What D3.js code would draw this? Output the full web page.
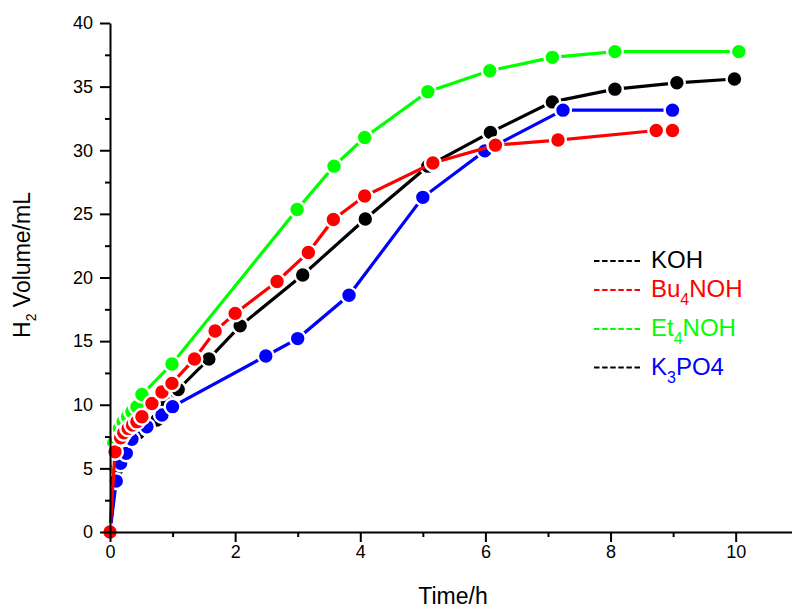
<!DOCTYPE html>
<html><head><meta charset="utf-8">
<script src="https://cdn.jsdelivr.net/npm/d3@7"></script>
<style>
body{margin:0;background:#fff;}
text{font-family:"Liberation Sans",Arial,sans-serif;}
</style></head>
<body><svg id="c" width="792" height="608"></svg>
<script>
// ---- data ----
const seriesNames = ["KOH", "Et4NOH", "K3PO4", "Bu4NOH"];
const time_KOH = [0, 0.10, 0.19, 0.35, 0.45, 0.59, 0.75, 0.90, 1.09, 1.58, 2.08, 3.08, 4.08, 5.08, 6.08, 7.07, 8.07, 9.06, 9.98];
const vol_KOH  = [0, 4.87, 6.44, 7.36, 7.75, 8.2, 8.8, 10.1, 11.2, 13.6, 16.2, 20.2, 24.6, 28.75, 31.4, 33.8, 34.8, 35.3, 35.6];
const time_Bu  = [0, 0.08, 0.17, 0.22, 0.29, 0.36, 0.43, 0.51, 0.67, 0.83, 0.99, 1.35, 1.68, 2.0, 2.67, 3.17, 3.57, 4.07, 5.16, 6.16, 7.16, 8.73, 8.99];
const vol_Bu   = [0, 6.3, 7.4, 7.8, 8.14, 8.4, 8.67, 9.06, 10.1, 11.0, 11.68, 13.6, 15.79, 17.18, 19.69, 21.97, 24.56, 26.4, 29.0, 30.4, 30.8, 31.55, 31.55];
const time_Et  = [0, 0.06, 0.15, 0.21, 0.28, 0.35, 0.43, 0.51, 0.99, 2.99, 3.58, 4.07, 5.08, 6.07, 7.07, 8.07, 10.05];
const vol_Et   = [0, 6.97, 8.14, 8.67, 9.06, 9.45, 9.85, 10.8, 13.2, 25.35, 28.75, 31.0, 34.6, 36.25, 37.3, 37.75, 37.75];
const time_K3  = [0, 0.10, 0.17, 0.26, 0.35, 0.59, 0.83, 1.0, 2.49, 3.0, 3.82, 5.0, 5.99, 7.24, 8.99];
const vol_K3   = [0, 4.0, 5.4, 6.18, 7.28, 8.27, 9.2, 9.85, 13.83, 15.2, 18.6, 26.3, 29.95, 33.15, 33.15];
const xMajorTicks = [0, 2, 4, 6, 8, 10];
const xMinorTicks = [1, 3, 5, 7, 9];
const yMajorTicks = [0, 5, 10, 15, 20, 25, 30, 35, 40];
const yMinorTicks = [2.5, 7.5, 12.5, 17.5, 22.5, 27.5, 32.5, 37.5];
const legendLabels = [["KOH", "", ""], ["Bu", "4", "NOH"], ["Et", "4", "NOH"], ["K", "3", "PO4"]];

// ---- style / layout ----
const colors = {KOH: "#000000", Bu4NOH: "#ff0000", Et4NOH: "#00ff00", K3PO4: "#0000ff"};
const legendLineColors = ["#000000", "#ff0000", "#00ff00", "#000000"];
const legendTextColors = ["#000000", "#ff0000", "#00ff00", "#0000ff"];
const legendLineY = [261, 290, 329, 367.5];
const legendTextY = [267.5, 297, 336, 375];

const svg = d3.select("#c");
const x = d3.scaleLinear().domain([0, 10.9]).range([110, 792]);
const y = d3.scaleLinear().domain([0, 40]).range([532, 23]);

const series = [
  {name: "KOH", t: time_KOH, v: vol_KOH},
  {name: "Et4NOH", t: time_Et, v: vol_Et},
  {name: "K3PO4", t: time_K3, v: vol_K3},
  {name: "Bu4NOH", t: time_Bu, v: vol_Bu}
];

const line = d3.line().x(d => x(d[0])).y(d => y(d[1]));
series.forEach(s => {
  const pts = s.t.map((t, i) => [t, s.v[i]]);
  const g = svg.append("g");
  g.append("path").attr("d", line(pts)).attr("fill", "none")
    .attr("stroke", colors[s.name]).attr("stroke-width", 3.2);
  g.selectAll("circle").data(pts).join("circle")
    .attr("cx", d => x(d[0])).attr("cy", d => y(d[1])).attr("r", 7.9)
    .attr("fill", colors[s.name]).attr("stroke", "#fff").attr("stroke-width", 2.4);
});

// axes
const fs = 18;
const xAxis = svg.append("g").attr("transform", "translate(0,532)")
  .call(d3.axisBottom(x).tickValues(xMajorTicks).tickSize(10).tickSizeOuter(0).tickPadding(3));
const xMinor = svg.append("g").attr("transform", "translate(0,532)")
  .call(d3.axisBottom(x).tickValues(xMinorTicks).tickSize(5).tickSizeOuter(0).tickFormat(""));
const yAxis = svg.append("g").attr("transform", "translate(110,0)")
  .call(d3.axisLeft(y).tickValues(yMajorTicks).tickSize(10).tickSizeOuter(0).tickPadding(7));
const yMinor = svg.append("g").attr("transform", "translate(110,0)")
  .call(d3.axisLeft(y).tickValues(yMinorTicks).tickSize(5).tickSizeOuter(0).tickFormat(""));
[xAxis, xMinor, yAxis, yMinor].forEach(a => {
  a.selectAll("path,line").attr("stroke", "#000").attr("stroke-width", 2);
  a.selectAll("text").attr("font-size", fs).attr("fill", "#000")
   .style("font-family", "'Liberation Sans',Arial,sans-serif");
});
xMinor.select(".domain").remove();
yMinor.select(".domain").remove();

// axis titles
svg.append("text").attr("x", 453).attr("y", 604).attr("text-anchor", "middle")
  .attr("font-size", 23).text("Time/h");
const yt = svg.append("text").attr("transform", "translate(30,265) rotate(-90)")
  .attr("text-anchor", "middle").attr("font-size", 23);
yt.append("tspan").text("H");
yt.append("tspan").attr("font-size", 14).attr("dy", 6).text("2");
yt.append("tspan").attr("dy", -6).text(" Volume/mL");

// legend
legendLabels.forEach((lab, i) => {
  svg.append("line").attr("x1", 594).attr("x2", 642)
    .attr("y1", legendLineY[i]).attr("y2", legendLineY[i])
    .attr("stroke", legendLineColors[i]).attr("stroke-width", 2)
    .attr("stroke-dasharray", "5.5,2.6");
  const t = svg.append("text").attr("x", 651).attr("y", legendTextY[i])
    .attr("font-size", 24).attr("fill", legendTextColors[i]);
  t.append("tspan").text(lab[0]);
  if (lab[1]) {
    t.append("tspan").attr("font-size", 16).attr("dy", 8).text(lab[1]);
    t.append("tspan").attr("dy", -8).text(lab[2]);
  }
});
</script></body></html>
